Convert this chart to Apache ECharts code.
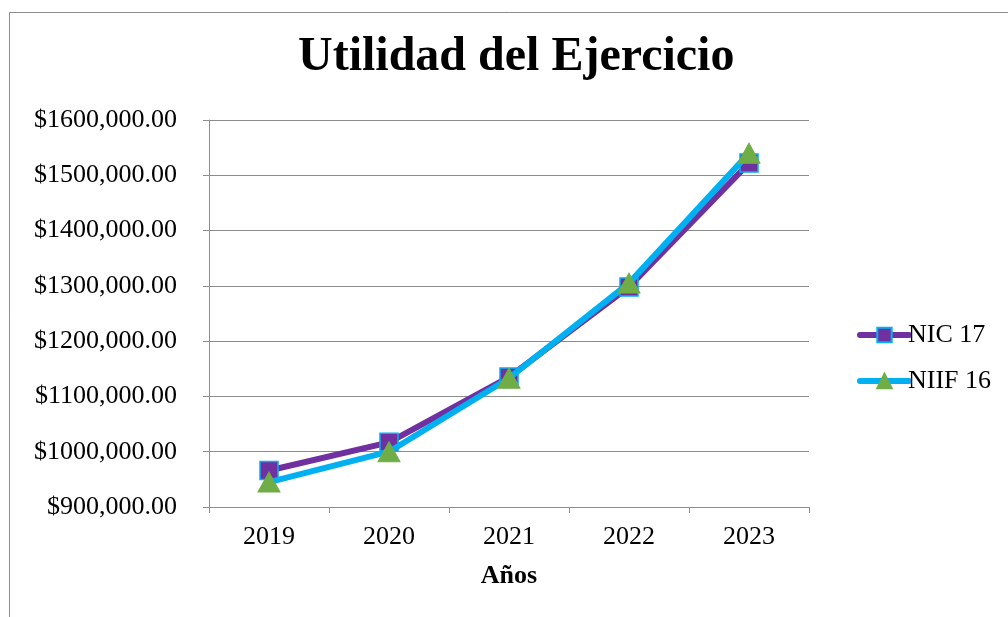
<!DOCTYPE html>
<html>
<head>
<meta charset="utf-8">
<script src="https://cdn.jsdelivr.net/npm/echarts@6/dist/echarts.min.js"></script>
<style>
  html, body { margin: 0; padding: 0; background: #fff; }
  #chart { width: 1008px; height: 617px; }
</style>
</head>
<body>
<div id="chart"></div>
<script>
// Años y utilidad del ejercicio por norma contable
const years = ['2019', '2020', '2021', '2022', '2023'];
const nic17 = [966000, 1017000, 1135000, 1298000, 1522000];
const niif16 = [945000, 1000000, 1133000, 1305000, 1540000];
const yMin = 900000, yMax = 1600000, yStep = 100000;

// Etiquetas tipo "$1600,000.00"
function money(v) {
  return '$' + Math.round(v / 1000) + ',000.00';
}

const serif = '"Liberation Serif", "Times New Roman", serif';
const chart = echarts.init(document.getElementById('chart'));

chart.setOption({
  backgroundColor: '#fff',
  animation: false,
  graphic: [{
    type: 'rect',
    shape: { x: 9.5, y: 12.5, width: 1100, height: 700 },
    style: { fill: 'none', stroke: '#8c8c8c', lineWidth: 1 },
    silent: true
  }],
  title: {
    text: 'Utilidad del Ejercicio',
    left: 298,
    top: 34,
    textStyle: { fontFamily: serif, fontSize: 48, fontWeight: 'bold', color: '#000' },
    padding: 0
  },
  grid: { left: 209, right: 199, top: 120, bottom: 110, containLabel: false },
  legend: {
    orient: 'vertical',
    left: 852,
    top: 317,
    itemWidth: 49,
    itemHeight: 18,
    itemGap: 20,
    lineStyle: { width: 6, cap: 'round' },
    textStyle: { fontFamily: serif, fontSize: 26, color: '#000', padding: [0, 0, 0, -6] },
    data: ['NIC 17', 'NIIF 16']
  },
  xAxis: {
    type: 'category',
    data: years,
    boundaryGap: true,
    name: 'Años',
    nameLocation: 'middle',
    nameGap: 56,
    nameTextStyle: { fontFamily: serif, fontSize: 26, fontWeight: 'bold', color: '#000' },
    axisLine: { lineStyle: { color: '#8c8c8c', width: 1 } },
    axisTick: { show: true, length: 6, alignWithLabel: false, lineStyle: { color: '#8c8c8c' } },
    axisLabel: { fontFamily: serif, fontSize: 26, color: '#000', margin: 17 }
  },
  yAxis: {
    type: 'value',
    min: yMin,
    max: yMax,
    interval: yStep,
    axisLine: { show: true, lineStyle: { color: '#8c8c8c', width: 1 } },
    axisTick: { show: true, length: 6, lineStyle: { color: '#8c8c8c' } },
    axisLabel: { fontFamily: serif, fontSize: 26, color: '#000', margin: 32, formatter: money },
    splitLine: { show: true, lineStyle: { color: '#8c8c8c', width: 1 } }
  },
  series: [
    {
      name: 'NIC 17',
      type: 'line',
      data: nic17,
      symbol: 'rect',
      symbolSize: 18,
      lineStyle: { color: '#7030A0', width: 6, cap: 'round', join: 'round' },
      itemStyle: { color: '#7030A0', borderColor: '#00B0F0', borderWidth: 1.5 },
      z: 2
    },
    {
      name: 'NIIF 16',
      type: 'line',
      data: niif16,
      symbol: 'triangle',
      symbolSize: [22, 20],
      lineStyle: { color: '#00B0F0', width: 6, cap: 'round', join: 'round' },
      itemStyle: { color: '#70AD47', borderColor: '#70AD47', borderWidth: 1 },
      z: 3
    }
  ]
});
</script>
</body>
</html>
